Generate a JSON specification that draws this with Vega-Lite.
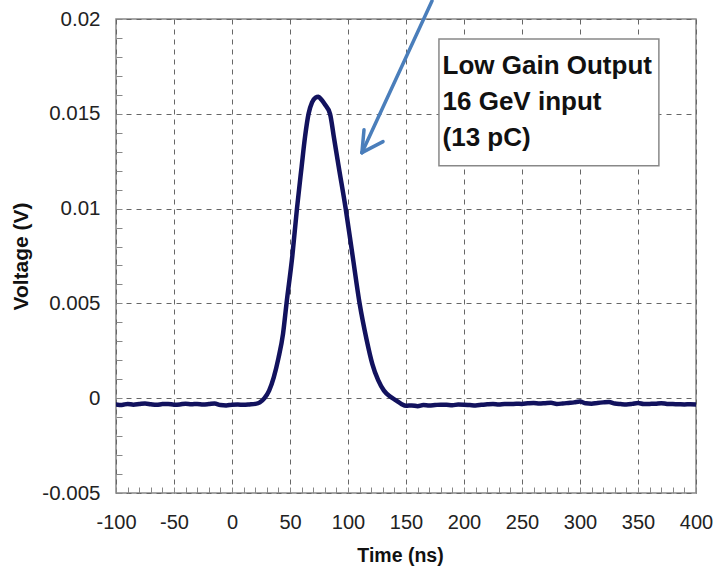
{
  "$schema": "https://vega.github.io/schema/vega-lite/v6.json",
  "width": 580,
  "height": 474,
  "autosize": {"type": "none"},
  "padding": {"left": 116, "top": 19, "right": 21, "bottom": 74},
  "background": "white",
  "config": {
    "view": {"stroke": "#888", "strokeWidth": 1.5},
    "font": "Liberation Sans",
    "axis": {"labelFont": "Liberation Sans", "titleFont": "Liberation Sans", "labelColor": "#222", "titleColor": "#111", "tickColor": "#888", "gridColor": "#666", "gridDash": [5, 5], "gridWidth": 1, "labelOverlap": false, "labelBound": false, "labelFlush": false}
  },
  "datasets": {
    "signal": [
      {"t": -100, "v": -0.00033}, {"t": -95, "v": -0.00036}, {"t": -90, "v": -0.0003}, {"t": -85, "v": -0.00034}, {"t": -80, "v": -0.00031},
      {"t": -75, "v": -0.00028}, {"t": -70, "v": -0.00032}, {"t": -65, "v": -0.00035}, {"t": -60, "v": -0.00031}, {"t": -55, "v": -0.0003},
      {"t": -50, "v": -0.00034}, {"t": -45, "v": -0.00033}, {"t": -40, "v": -0.00029}, {"t": -35, "v": -0.00032}, {"t": -30, "v": -0.0003},
      {"t": -25, "v": -0.00033}, {"t": -20, "v": -0.00031}, {"t": -15, "v": -0.00028}, {"t": -10, "v": -0.00036}, {"t": -5, "v": -0.00038},
      {"t": 0, "v": -0.00034}, {"t": 5, "v": -0.00033}, {"t": 10, "v": -0.00035}, {"t": 15, "v": -0.00033}, {"t": 20, "v": -0.0003},
      {"t": 24, "v": -0.00022}, {"t": 28, "v": 0.0}, {"t": 32, "v": 0.0004}, {"t": 36, "v": 0.0011}, {"t": 40, "v": 0.0021},
      {"t": 44, "v": 0.0034}, {"t": 47, "v": 0.005}, {"t": 52, "v": 0.0075}, {"t": 56, "v": 0.01}, {"t": 60, "v": 0.0122}, {"t": 63, "v": 0.0138},
      {"t": 66, "v": 0.015}, {"t": 69, "v": 0.0156}, {"t": 72, "v": 0.01585}, {"t": 74.5, "v": 0.0159}, {"t": 77, "v": 0.01575},
      {"t": 80, "v": 0.0155}, {"t": 84.5, "v": 0.015}, {"t": 88, "v": 0.0137}, {"t": 92, "v": 0.0122}, {"t": 98, "v": 0.01},
      {"t": 104, "v": 0.0075}, {"t": 110, "v": 0.005}, {"t": 116, "v": 0.0031}, {"t": 121, "v": 0.0018}, {"t": 126, "v": 0.00095},
      {"t": 131, "v": 0.0004}, {"t": 136, "v": 0.0001}, {"t": 141, "v": -0.0001}, {"t": 146, "v": -0.0003}, {"t": 150, "v": -0.0004},
      {"t": 155, "v": -0.00038}, {"t": 160, "v": -0.00042}, {"t": 165, "v": -0.00036}, {"t": 170, "v": -0.00038}, {"t": 175, "v": -0.00036},
      {"t": 180, "v": -0.00034}, {"t": 185, "v": -0.00035}, {"t": 190, "v": -0.00037}, {"t": 195, "v": -0.00033}, {"t": 200, "v": -0.00034},
      {"t": 205, "v": -0.00036}, {"t": 210, "v": -0.00038}, {"t": 215, "v": -0.00035}, {"t": 220, "v": -0.00032}, {"t": 225, "v": -0.0003},
      {"t": 230, "v": -0.00033}, {"t": 235, "v": -0.0003}, {"t": 240, "v": -0.00031}, {"t": 245, "v": -0.00029}, {"t": 250, "v": -0.0003},
      {"t": 255, "v": -0.00027}, {"t": 260, "v": -0.00025}, {"t": 265, "v": -0.00028}, {"t": 270, "v": -0.00026}, {"t": 275, "v": -0.00024},
      {"t": 280, "v": -0.0003}, {"t": 285, "v": -0.00028}, {"t": 290, "v": -0.00025}, {"t": 295, "v": -0.00022}, {"t": 300, "v": -0.00018},
      {"t": 305, "v": -0.00027}, {"t": 310, "v": -0.00029}, {"t": 315, "v": -0.00025}, {"t": 320, "v": -0.00022}, {"t": 325, "v": -0.0002},
      {"t": 330, "v": -0.00028}, {"t": 335, "v": -0.00031}, {"t": 340, "v": -0.00033}, {"t": 345, "v": -0.0003}, {"t": 350, "v": -0.00025},
      {"t": 355, "v": -0.00031}, {"t": 360, "v": -0.0003}, {"t": 365, "v": -0.00029}, {"t": 370, "v": -0.00026}, {"t": 375, "v": -0.0003},
      {"t": 380, "v": -0.00031}, {"t": 385, "v": -0.00032}, {"t": 390, "v": -0.00033}, {"t": 395, "v": -0.00032}, {"t": 400, "v": -0.00033}
    ],
    "arrow": [
      {"x1": 172.4, "y1": 0.02095, "x2": 112, "y2": 0.01295},
      {"x1": 112, "y1": 0.01295, "x2": 113.8, "y2": 0.01416},
      {"x1": 112, "y1": 0.01295, "x2": 130.2, "y2": 0.01353}
    ],
    "box": [{"x1": 178.4, "x2": 368, "y1": 0.01226, "y2": 0.01895}],
    "labels": [
      {"x": 181.5, "y": 0.01753, "text": "Low Gain Output"},
      {"x": 181.5, "y": 0.01563, "text": "16 GeV  input"},
      {"x": 181.5, "y": 0.01374, "text": "(13  pC)"}
    ]
  },
  "layer": [
    {
      "data": {"name": "signal"},
      "mark": {"type": "line", "color": "#12125e", "strokeWidth": 4.5, "strokeJoin": "round", "strokeCap": "round", "interpolate": "monotone", "clip": true},
      "encoding": {
        "x": {
          "field": "t", "type": "quantitative", "title": "Time  (ns)",
          "scale": {"domain": [-100, 400], "nice": false, "zero": false},
          "axis": {
            "title": "Time  (ns)", "titleFontSize": 19.5, "titleFontWeight": "bold", "titlePadding": 14, "titleX": 284,
            "labelFontSize": 20, "labelPadding": 25, "domain": false, "tickCount": 500,
            "values": [-100,-90,-80,-70,-60,-50,-40,-30,-20,-10,0,10,20,30,40,50,60,70,80,90,100,110,120,130,140,150,160,170,180,190,200,210,220,230,240,250,260,270,280,290,300,310,320,330,340,350,360,370,380,390,400],
            "labelExpr": "datum.value % 50 === 0 ? datum.value + '' : ''",
            "gridOpacity": {"condition": {"test": "datum.value % 50 === 0", "value": 1}, "value": 0},
            "tickSize": -6, "tickWidth": 1
          }
        },
        "y": {
          "field": "v", "type": "quantitative", "title": "Voltage  (V)",
          "scale": {"domain": [-0.005, 0.02], "nice": false, "zero": false},
          "axis": {
            "title": "Voltage  (V)", "titleFontSize": 21, "titleFontWeight": "bold", "titlePadding": 10,
            "labelFontSize": 20.5, "labelPadding": 22, "domain": false, "tickCount": 500,
            "values": [-0.005,-0.004,-0.003,-0.002,-0.001,0,0.001,0.002,0.003,0.004,0.005,0.006,0.007,0.008,0.009,0.01,0.011,0.012,0.013,0.014,0.015,0.016,0.017,0.018,0.019,0.02],
            "labelExpr": "abs(round(datum.value * 1000)) % 5 === 0 ? datum.value + '' : ''",
            "gridOpacity": {"condition": {"test": "abs(round(datum.value * 1000)) % 5 === 0", "value": 1}, "value": 0},
            "tickSize": -6, "tickWidth": 1
          }
        }
      }
    },
    {
      "data": {"name": "arrow"},
      "mark": {"type": "rule", "color": "#4a7ebb", "strokeWidth": 3.5, "strokeCap": "round", "clip": false},
      "encoding": {
        "x": {"field": "x1", "type": "quantitative", "title": "Time  (ns)"},
        "x2": {"field": "x2"},
        "y": {"field": "y1", "type": "quantitative", "title": "Voltage  (V)"},
        "y2": {"field": "y2"}
      }
    },
    {
      "data": {"name": "box"},
      "mark": {"type": "rect", "fill": "white", "stroke": "#888", "strokeWidth": 1.5},
      "encoding": {
        "x": {"field": "x1", "type": "quantitative", "title": "Time  (ns)"},
        "x2": {"field": "x2"},
        "y": {"field": "y1", "type": "quantitative", "title": "Voltage  (V)"},
        "y2": {"field": "y2"}
      }
    },
    {
      "data": {"name": "labels"},
      "mark": {"type": "text", "align": "left", "baseline": "middle", "fontSize": 26, "fontWeight": "bold", "font": "Liberation Sans", "color": "#111"},
      "encoding": {
        "x": {"field": "x", "type": "quantitative", "title": "Time  (ns)"},
        "y": {"field": "y", "type": "quantitative", "title": "Voltage  (V)"},
        "text": {"field": "text"}
      }
    }
  ]
}
